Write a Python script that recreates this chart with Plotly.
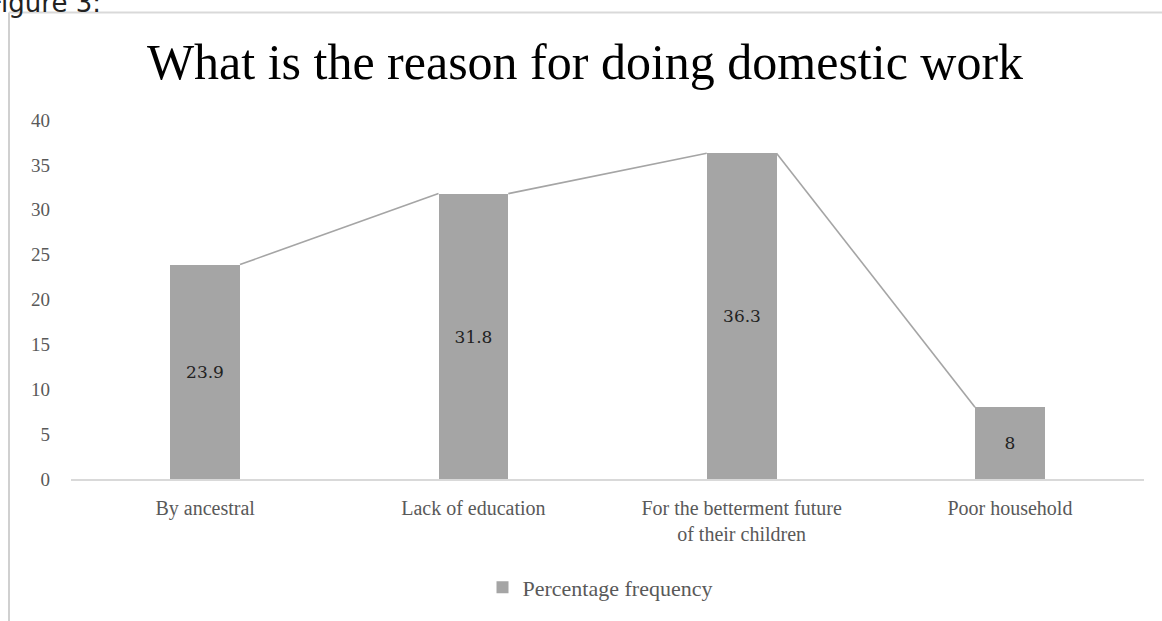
import plotly.graph_objects as go

categories = ["By ancestral", "Lack of education",
              "For the betterment future<br>of their children", "Poor household"]
values = [23.9, 31.8, 36.3, 8]
labels = ["23.9", "31.8", "36.3", "8"]
series_name = "Percentage frequency"
title_text = "What is the reason for doing domestic work"
y_ticks = [0, 5, 10, 15, 20, 25, 30, 35, 40]

W, H = 1162, 621
L, R, T, B = 71, 18, 120, 140
BAR_W = 0.26
BAR_COLOR = "#a5a5a5"

pw = W - L - R
ph = H - T - B


def px_x(p):
    return (p - L) / pw


def px_y(p):
    return (H - B - p) / ph


xs = list(range(len(categories)))

# connector lines: top-right corner of each bar to top-left of next
lx, ly = [], []
for i in range(len(values) - 1):
    lx += [xs[i] + BAR_W / 2, xs[i + 1] - BAR_W / 2, None]
    ly += [values[i], values[i + 1], None]

fig = go.Figure()
fig.add_trace(go.Bar(
    x=xs, y=values, width=BAR_W, name=series_name,
    marker=dict(color=BAR_COLOR, line=dict(width=0)),
    text=labels, textposition="inside", insidetextanchor="middle",
    textangle=0,
    textfont=dict(family="DejaVu Serif", size=17, color="#222222"),
    showlegend=True,
))
fig.add_trace(go.Scatter(
    x=lx, y=ly, mode="lines", line=dict(color=BAR_COLOR, width=1.6),
    showlegend=False, hoverinfo="skip",
))

fig.update_layout(
    width=W, height=H,
    margin=dict(l=L, r=R, t=T, b=B),
    paper_bgcolor="white", plot_bgcolor="white",
    title=dict(text=title_text, xref="container", yref="container",
               x=585 / W, xanchor="center", y=1 - 61 / H, yanchor="middle",
               font=dict(family="Liberation Serif", size=50, color="#000000")),
    legend=dict(orientation="h", x=px_x(600), xanchor="center",
                y=px_y(590), yanchor="middle",
                font=dict(family="Liberation Serif", size=22, color="#595959"),
                itemwidth=30, traceorder="normal"),
    xaxis=dict(range=[-0.5, 3.5], tickmode="array", tickvals=xs,
               ticktext=categories, showgrid=False, zeroline=False,
               showline=True, linecolor="#d9d9d9", linewidth=1.5,
               ticks="", ticklabelstandoff=10,
               tickfont=dict(family="Liberation Serif", size=20, color="#595959")),
    yaxis=dict(range=[0, 40], tickmode="array", tickvals=y_ticks,
               showgrid=False, zeroline=False, showline=False, ticks="",
               ticklabelstandoff=20,
               tickfont=dict(family="Liberation Serif", size=19, color="#595959")),
    shapes=[dict(type="line", xref="paper", yref="paper",
                 x0=px_x(9), y0=px_y(H + 5), x1=px_x(9), y1=px_y(12),
                 line=dict(color="#d0d0d0", width=2)),
            dict(type="line", xref="paper", yref="paper",
                 x0=px_x(9), y0=px_y(12), x1=px_x(W + 5), y1=px_y(12),
                 line=dict(color="#d9d9d9", width=2))],
    annotations=[dict(text="Figure 3:", xref="paper", yref="paper",
                      x=px_x(-14), y=px_y(19), xanchor="left", yanchor="bottom",
                      showarrow=False,
                      font=dict(family="DejaVu Sans", size=26, color="#222222"))],
    bargap=0,
)

fig.write_html("out.html")
